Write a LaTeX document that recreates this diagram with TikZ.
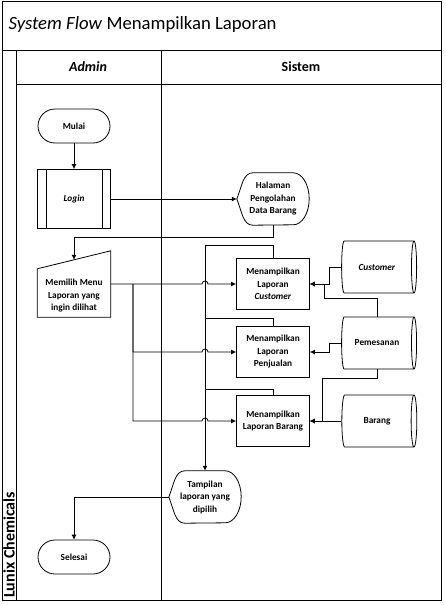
\documentclass[tikz,border=0pt]{standalone}
\usepackage{fontspec}
\setmainfont{Carlito}
\usetikzlibrary{arrows.meta,shapes.geometric}

\tikzset{
  line/.style={draw, line width=0.8pt},
  flow/.style={line, -{Latex[length=5pt,width=5pt]}},
  txt/.style={font=\fontsize{9.3}{12.5}\selectfont\bfseries, align=center},
  terminal/.style={txt, line, rounded corners=17pt, minimum width=72pt, minimum height=34pt},
  proc/.style={txt, line, minimum width=73pt, minimum height=51pt},
  predef/.style={proc, minimum height=59pt},
  display/.style={txt, minimum width=72pt, minimum height=52pt, inner sep=1pt},
  manual/.style={txt, minimum width=73pt, minimum height=42pt},
  dbase/.style={txt, line, cylinder, aspect=0.4, minimum width=52pt, minimum height=75pt},
  hop/.style={start angle=180, end angle=0, x radius=3pt, y radius=3pt},
}
% display shape around a plain node
\newcommand{\drawdisplay}[1]{%
  \draw[line] (#1.west) .. controls ([xshift=5pt,yshift=12pt]#1.west) and ([xshift=6pt]#1.north west) .. ([xshift=16pt]#1.north west)
    -- ([xshift=-16pt]#1.north east) arc[start angle=90, end angle=-90, x radius=16pt, y radius=26pt]
    -- ([xshift=16pt]#1.south west) .. controls ([xshift=6pt]#1.south west) and ([xshift=5pt,yshift=-12pt]#1.west) .. (#1.west);}

\begin{document}
\begin{tikzpicture}[x=1pt,y=-1pt]
\useasboundingbox (0,0) rectangle (445,605);

% frame and lanes
\draw[line] (2,1) rectangle (441,600);
\draw[line] (2,50) -- (441,50);
\draw[line] (16,50) -- (16,600);
\draw[line] (16,84) -- (441,84);
\draw[line] (161,50) -- (161,600);
\node[anchor=west, font=\fontsize{18.7}{20}\selectfont] (title) at (5,25) {\textit{System Flow} Menampilkan Laporan};
\node[font=\fontsize{14}{16}\selectfont\bfseries] (admin) at (88,67) {\textit{Admin}};
\node[font=\fontsize{14}{16}\selectfont\bfseries] (sistem) at (301,67) {Sistem};
\node[rotate=90, anchor=west, inner sep=0pt, font=\fontsize{16}{18}\selectfont\bfseries] (company) at (9,598) {Lunix Chemicals};

% admin lane
\node[terminal] (mulai) at (74,126) {Mulai};
\node[predef] (login) at (74,199) {\textit{Login}};
\draw[line] ([xshift=9pt]login.north west) -- ([xshift=9pt]login.south west);
\draw[line] ([xshift=-9pt]login.north east) -- ([xshift=-9pt]login.south east);
\node[manual] (menu) at (74,296) {Memilih Menu\\Laporan yang\\ingin dilihat};
\draw[line] (menu.south west) -- (menu.south east) -- ([yshift=24pt]menu.north east) -- ([yshift=6pt]menu.north west) -- cycle;
\node[terminal] (selesai) at (74,557) {Selesai};

% sistem lane
\node[display] (halaman) at (273,199) {Halaman\\Pengolahan\\Data Barang};
\drawdisplay{halaman}
\node[proc] (lapcust) at (273,284) {Menampilkan\\Laporan\\\textit{Customer}};
\node[proc] (lappenj) at (273,352) {Menampilkan\\Laporan\\Penjualan};
\node[proc] (lapbrg) at (273,421) {Menampilkan\\Laporan Barang};
\node[dbase] (dbcust) at (377,267) {\textit{Customer}};
\node[dbase] (dbpesan) at (377,343) {Pemesanan};
\node[dbase] (dbbrg) at (377,421) {Barang};
\node[display] (tampil) at (205,497) {Tampilan\\laporan yang\\dipilih};
\drawdisplay{tampil}

\coordinate (turn) at (74,237);
\coordinate (split) at (133,284);
\coordinate (bus) at (205,245);

% connectors
\draw[flow] (mulai) -- (login);
\draw[flow] (login.east) -- (halaman.west);
\draw[flow] (halaman.south) |- (turn) -- ([yshift=15pt]menu.north);
\draw[flow] ([yshift=12pt]menu.east) -- ([xshift=-3pt]bus |- lapcust.west) arc[hop] -- (lapcust.west);
\draw[flow] (split) |- ([xshift=-3pt]bus |- lappenj.west) arc[hop] -- (lappenj.west);
\draw[flow] (split) |- ([xshift=-3pt]bus |- lapbrg.west) arc[hop] -- (lapbrg.west);
\draw[line] (lapcust.north) |- (bus);
\draw[line] (lappenj.north) -- ([yshift=8pt]lappenj.north) -| (bus);
\draw[line] (lapbrg.north) -- ([yshift=6pt]lapbrg.north) -| (bus);
\draw[flow] (bus) -- (tampil.north);
\draw[flow] (dbcust.west) -- ([xshift=-12pt]dbcust.west) |- (lapcust.east);
\draw[flow] (dbpesan.north) -- ([yshift=18pt]dbpesan.north) -| ([xshift=14pt]lapcust.east) -- (lapcust.east);
\draw[flow] (dbpesan.west) -- ([xshift=-12pt]dbpesan.west) |- (lappenj.east);
\draw[flow] (dbpesan.south) -- ([yshift=-9pt]dbpesan.south) -| ([xshift=12pt]lapbrg.east) -- (lapbrg.east);
\draw[flow] (dbbrg.west) -- (lapbrg.east);
\draw[flow] (tampil.west) -| (selesai.north);
\end{tikzpicture}
\end{document}
